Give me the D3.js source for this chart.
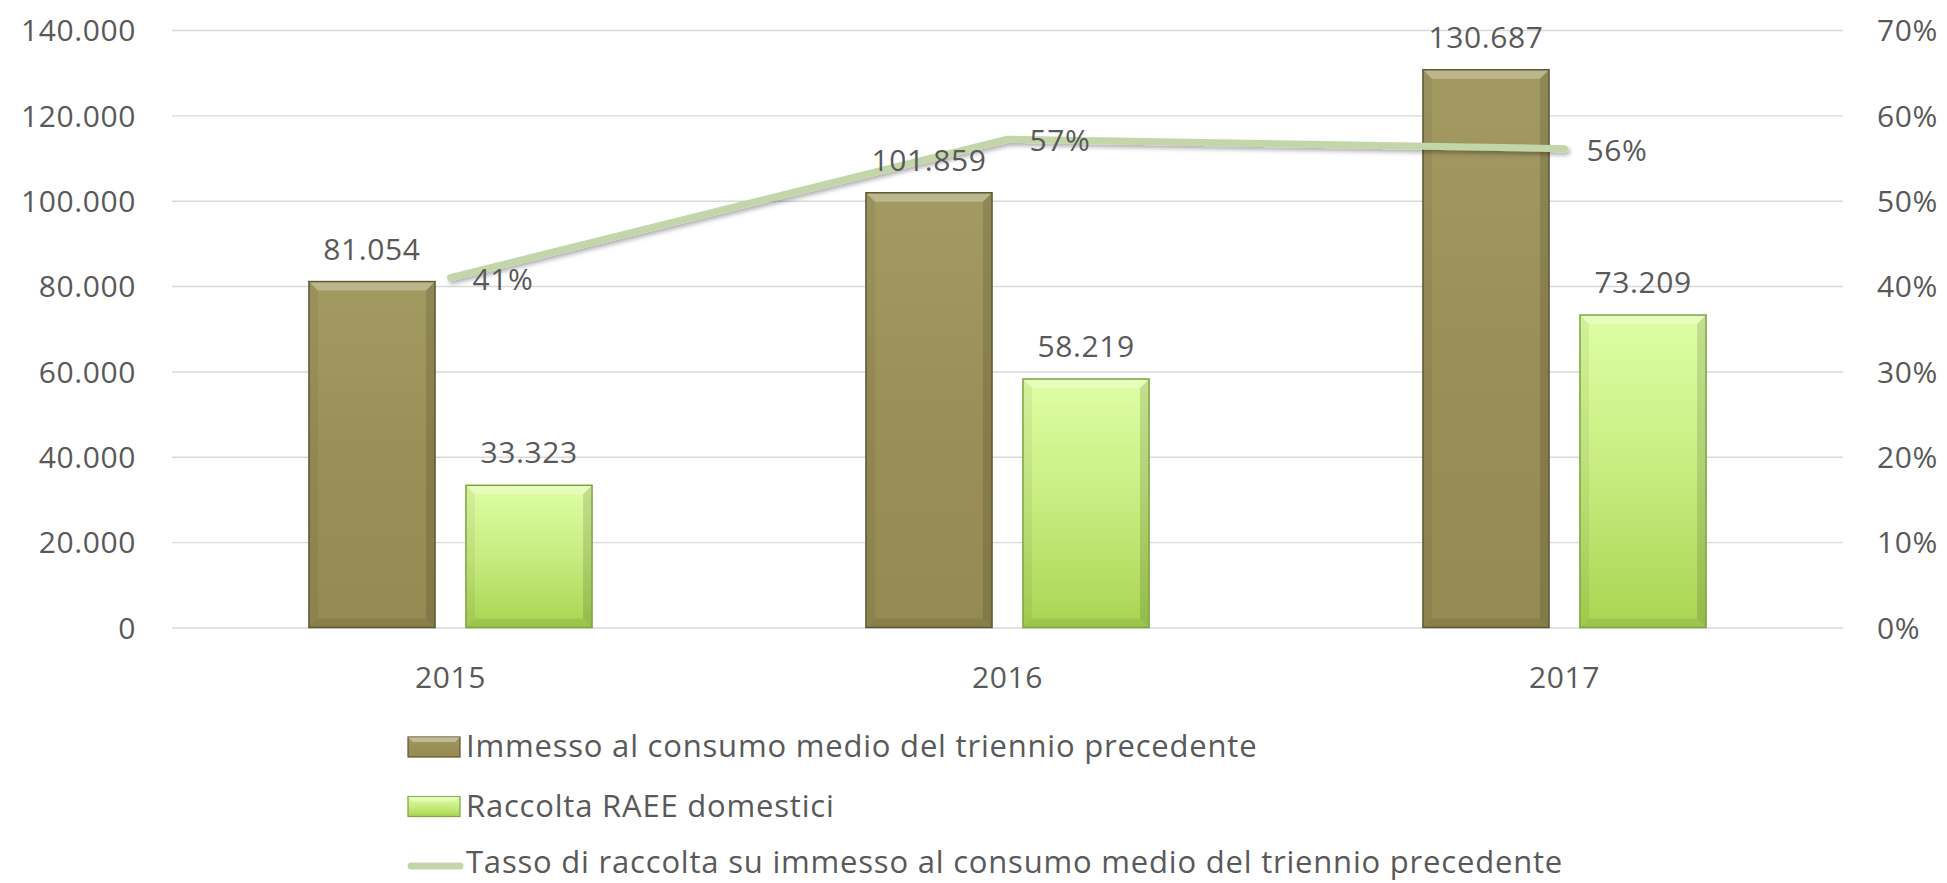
<!DOCTYPE html>
<html>
  <head>
    <meta charset="utf-8" />
    <title>Raccolta RAEE domestici</title>
    <script src="https://cdn.jsdelivr.net/npm/d3@7"></script>
    <style>
      body { margin: 0; background: #fff; }
      svg text { font-family: "Open Sans", "Noto Sans", sans-serif; fill: #595959; font-size: 30px; letter-spacing: 0.6px; }
      .legend text { font-size: 31px; letter-spacing: 0.8px; }
      .grid line { stroke: #d9d9d9; stroke-width: 1.4px; }
    </style>
  </head>
  <body>
    <svg width="1947" height="883"></svg>
    <script>
      // data
      const years = ["2015", "2016", "2017"];
      const immesso = [81054, 101859, 130687];
      const raccolta = [33323, 58219, 73209];
      const tasso = [0.41, 0.572, 0.561];
      const yTicks = [0, 20000, 40000, 60000, 80000, 100000, 120000, 140000];
      const y2Ticks = [0, 0.1, 0.2, 0.3, 0.4, 0.5, 0.6, 0.7];
      const seriesNames = [
        "Immesso al consumo medio del triennio precedente",
        "Raccolta RAEE domestici",
        "Tasso di raccolta su immesso al consumo medio del triennio precedente",
      ];

      const svg = d3.select("svg");
      const margin = { top: 30, left: 172, right: 1843, bottom: 627.5 };

      const it = d3.formatLocale({ decimal: ",", thousands: ".", grouping: [3], currency: ["€", ""] });
      const fmtNum = it.format(",.0f");
      const fmtPct = d3.format(".0%");

      // scales
      const x = d3.scaleBand().domain(years).range([margin.left, margin.right]);
      const x1 = d3.scaleBand().domain(["immesso", "raccolta"])
        .range([0, x.bandwidth()]).paddingInner(0.197).paddingOuter(0.872);
      const y = d3.scaleLinear().domain([0, 140000]).range([margin.bottom, margin.top]);
      const y2 = d3.scaleLinear().domain([0, 0.7]).range([margin.bottom, margin.top]);

      const defs = svg.append("defs");
      const grads = {
        immesso: ["#a39a62", "#9a8f57", "#948a52"],
        raccolta: ["#defea4", "#c8ec80", "#a8d552"],
      };
      Object.entries(grads).forEach(([k, c]) => {
        const g = defs.append("linearGradient").attr("id", "g-" + k)
          .attr("x1", 0).attr("y1", 0).attr("x2", 0).attr("y2", 1);
        g.append("stop").attr("offset", "0%").attr("stop-color", c[0]);
        g.append("stop").attr("offset", "50%").attr("stop-color", c[1]);
        g.append("stop").attr("offset", "100%").attr("stop-color", c[2]);
      });
      const sh = defs.append("filter").attr("id", "shadow")
        .attr("x", "-10%").attr("y", "-50%").attr("width", "120%").attr("height", "200%");
      sh.append("feDropShadow").attr("dx", 2).attr("dy", 3).attr("stdDeviation", 2)
        .attr("flood-color", "#000").attr("flood-opacity", 0.3);

      // gridlines + axes
      svg.append("g").attr("class", "grid")
        .attr("transform", "translate(" + margin.left + ",0)")
        .call(d3.axisLeft(y).tickValues(yTicks).tickSize(-(margin.right - margin.left)).tickFormat(""))
        .call((g) => g.select(".domain").remove());

      svg.append("g")
        .attr("transform", "translate(136,0)")
        .call(d3.axisLeft(y).tickValues(yTicks).tickSize(0).tickPadding(0).tickFormat(fmtNum))
        .call((g) => g.select(".domain").remove())
        .selectAll("text").attr("dy", "0.36em").attr("font-family", null).attr("font-size", null);

      svg.append("g")
        .attr("transform", "translate(1877,0)")
        .call(d3.axisRight(y2).tickValues(y2Ticks).tickSize(0).tickPadding(0).tickFormat(fmtPct))
        .call((g) => g.select(".domain").remove())
        .selectAll("text").attr("dy", "0.36em").attr("font-family", null).attr("font-size", null);

      svg.append("g")
        .attr("transform", "translate(0," + (margin.bottom + 60) + ")")
        .call(d3.axisBottom(x).tickSize(0).tickPadding(0))
        .call((g) => g.select(".domain").remove())
        .selectAll("text").attr("dy", 0).attr("font-family", null).attr("font-size", null);

      // bars with a bevel look
      const bars = [];
      years.forEach((yr, i) => {
        bars.push({ key: "immesso", year: yr, v: immesso[i] });
        bars.push({ key: "raccolta", year: yr, v: raccolta[i] });
      });
      const stroke = { immesso: "#5e5830", raccolta: "#7ca33c" };
      const bev = 9;

      const bg = svg.append("g").selectAll("g").data(bars).join("g");
      bg.each(function (d) {
        const g = d3.select(this);
        const x0 = x(d.year) + x1(d.key), w = x1.bandwidth();
        const y0 = y(d.v), y1b = y(0);
        g.append("rect").attr("x", x0).attr("y", y0).attr("width", w).attr("height", y1b - y0)
          .attr("fill", "url(#g-" + d.key + ")");
        g.append("polygon").attr("points", [[x0, y0], [x0 + w, y0], [x0 + w - bev, y0 + bev], [x0 + bev, y0 + bev]].join(" "))
          .attr("fill", "#fff").attr("opacity", 0.28);
        g.append("polygon").attr("points", [[x0, y0], [x0 + bev, y0 + bev], [x0 + bev, y1b - bev], [x0, y1b]].join(" "))
          .attr("fill", "#000").attr("opacity", 0.05);
        g.append("polygon").attr("points", [[x0 + w, y0], [x0 + w - bev, y0 + bev], [x0 + w - bev, y1b - bev], [x0 + w, y1b]].join(" "))
          .attr("fill", "#000").attr("opacity", 0.12);
        g.append("polygon").attr("points", [[x0, y1b], [x0 + bev, y1b - bev], [x0 + w - bev, y1b - bev], [x0 + w, y1b]].join(" "))
          .attr("fill", "#000").attr("opacity", 0.08);
        g.append("rect").attr("x", x0).attr("y", y0).attr("width", w).attr("height", y1b - y0)
          .attr("fill", "none").attr("stroke", stroke[d.key]).attr("stroke-width", 1.5);
      });

      // rate line
      const line = d3.line()
        .x((d, i) => x(years[i]) + x.bandwidth() / 2)
        .y((d) => y2(d));
      svg.append("path").datum(tasso)
        .attr("d", line).attr("fill", "none")
        .attr("stroke", "#c3d6a9").attr("stroke-width", 7)
        .attr("stroke-linecap", "round").attr("stroke-linejoin", "round")
        .attr("filter", "url(#shadow)");

      // data labels on top of everything
      svg.append("g").selectAll("text").data(bars).join("text")
        .attr("x", (d) => x(d.year) + x1(d.key) + x1.bandwidth() / 2)
        .attr("y", (d) => y(d.v) - 22)
        .attr("text-anchor", "middle")
        .text((d) => fmtNum(d.v));

      svg.append("g").selectAll("text").data(tasso).join("text")
        .attr("x", (d, i) => x(years[i]) + x.bandwidth() / 2 + 22)
        .attr("y", (d) => y2(d) + 12)
        .text((d) => fmtPct(d));

      // legend
      const lg = svg.append("g").attr("class", "legend").attr("transform", "translate(408,747)");
      const rowH = 59.5;
      ["immesso", "raccolta"].forEach((k, i) => {
        const g = lg.append("g").attr("transform", "translate(0," + i * rowH + ")");
        g.append("rect").attr("x", 0).attr("y", -10).attr("width", 52).attr("height", 20)
          .attr("fill", "url(#g-" + k + ")").attr("stroke", stroke[k]).attr("stroke-width", 1.2);
        g.append("polygon").attr("points", "0,-10 52,-10 47,-5 5,-5").attr("fill", "#fff").attr("opacity", 0.35);
        g.append("text").attr("x", 58).attr("y", 10).text(seriesNames[i]);
      });
      const g3 = lg.append("g").attr("transform", "translate(0," + 2 * rowH + ")");
      g3.append("line").attr("x1", 3).attr("x2", 52).attr("y1", 0).attr("y2", 0)
        .attr("stroke", "#c3d6a9").attr("stroke-width", 7).attr("stroke-linecap", "round");
      g3.append("text").attr("x", 58).attr("y", 7).text(seriesNames[2]);
    </script>
  </body>
</html>
